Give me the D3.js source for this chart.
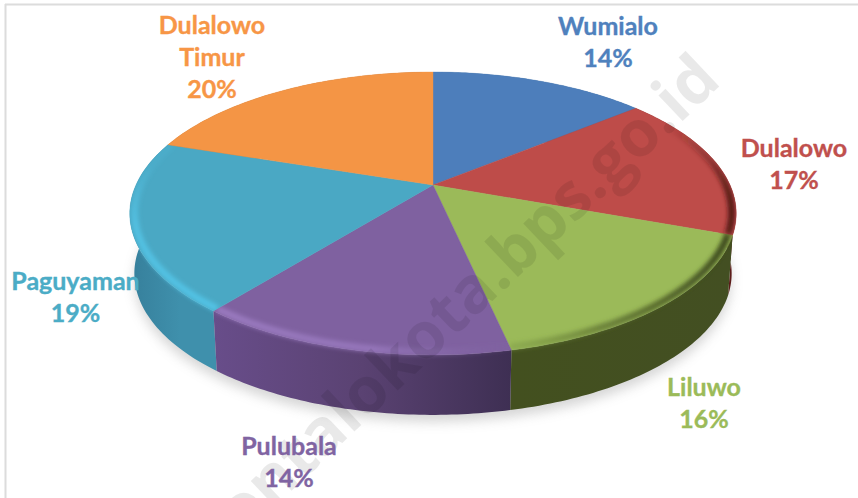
<!DOCTYPE html>
<html><head><meta charset="utf-8">
<script src="https://cdn.jsdelivr.net/npm/d3@7"></script>
<style>html,body{margin:0;padding:0;background:#fff}svg{display:block}</style>
</head><body><svg id="c" width="858" height="498"></svg>
<script>
const categories = ["Wumialo","Dulalowo","Liluwo","Pulubala","Paguyaman","Dulalowo Timur"];
const values = [14.0,16.6,16.0,14.1,19.4,19.9];
const labelLines = [["Wumialo"],["Dulalowo"],["Liluwo"],["Pulubala"],["Paguyaman"],["Dulalowo","Timur"]];
const colors = ["#4d7ebb","#be4c49","#9bba59","#7f61a0","#4aa8c4","#f49545"];
const labelColors = ["#4f81bd","#c0504d","#9bbb59","#8064a2","#4bacc6","#f79646"];
const watermark = "ontalokota.bps.go.id";

// layout
const W=858,H=498, cx=433, cy=185, A=297, B=135.7, k=0.2013, depth=60, baseScale=0.985;
const labelPos=[[608,26],[794,148],[704,387],[289,446],[75.5,281],[212,25]];
const lineGap=32;
const sideStops=[
  [[0,"#3a6594"],[1,"#3a6594"]],
  [[0,"#7a2523"],[1,"#5a1b19"]],
  [[0,"#43501f"],[1,"#434f22"]],
  [[0,"#684d8a"],[0.5,"#5a4272"],[1,"#3e2f53"]],
  [[0,"#367f9b"],[0.6,"#3f90ac"],[1,"#3f90ac"]],
  [[0,"#b06a30"],[1,"#b06a30"]]];
// rim band: gradient axis and stops [position, colour, opacity]
const rimAxis=["x","x","x","x","y","x"];
const rimStops=[
  [],
  [[665,"#5a1b19",0],[710,"#5a1b19",.45],[735,"#4a1412",1]],
  [[510,"#7d9a45",.45],[600,"#5a6d2e",.7],[725,"#3f4c1e",1]],
  [[214,"#9c7cc2",.9],[370,"#9878bd",.9],[510,"#8064a2",.1]],
  [[165,"#55c6e8",.15],[225,"#55c6e8",.8],[305,"#52c2e4",1]],
  []];

const svg=d3.select("#c");
const defs=svg.append("defs");
const xS=d3.scaleLinear().domain([-1,1]).range([cx-A,cx+A]);
const yS=d3.scaleLinear().domain([-1,1]).range([cy-B,cy+B]);
function project(r,t){
  const u=r*Math.sin(t), v=-r*Math.cos(t), w=1-k*v;
  return [xS(u/w), yS(v/w)];
}
function baseOf(p){return [cx+(p[0]-cx)*baseScale, p[1]+depth];}
const line=d3.line().curve(d3.curveLinear);
const pie=d3.pie().sort(null).value(d=>d)(values);
const arcPts=(a0,a1,r=1)=>d3.range(0,1.0001,1/60).map(f=>project(r,a0+(a1-a0)*f));
const full=arcPts(0,2*Math.PI);
const slices=pie.map((d,i)=>{
  const rim=arcPts(d.startAngle,d.endAngle);
  return {i,d,rim,top:line([[cx,cy],...rim])+"Z",side:line([...rim,...rim.slice().reverse().map(baseOf)])+"Z"};
});

const blur=(id,s)=>defs.append("filter").attr("id",id).attr("x","-20%").attr("y","-20%").attr("width","140%").attr("height","140%")
  .append("feGaussianBlur").attr("stdDeviation",s);
blur("shadow",6); blur("rimBlur",2.2);

// frame
svg.append("line").attr("x1",5.5).attr("x2",5.5).attr("y1",4).attr("y2",H).attr("stroke","#dcdcdc").attr("stroke-width",2);
svg.append("line").attr("x1",5).attr("x2",W).attr("y1",4.5).attr("y2",4.5).attr("stroke","#dcdcdc").attr("stroke-width",2);

// soft shadow
svg.append("path").attr("d",line(full.map(baseOf).map(p=>[p[0],p[1]+7]))+"Z")
  .attr("fill","#8d8d8d").attr("opacity",.36).attr("filter","url(#shadow)");

// side walls, back to front
slices.forEach(s=>{
  const g=defs.append("linearGradient").attr("id","side"+s.i).attr("gradientUnits","userSpaceOnUse")
    .attr("x1",d3.min(s.rim,p=>p[0])).attr("x2",d3.max(s.rim,p=>p[0])).attr("y1",0).attr("y2",0);
  sideStops[s.i].forEach(t=>g.append("stop").attr("offset",t[0]).attr("stop-color",t[1]));
  const cp=defs.append("clipPath").attr("id","clip"+s.i);
  cp.append("path").attr("d",s.top); cp.append("path").attr("d",s.side);
});
svg.append("g").selectAll("path").data(slices.slice().sort((a,b)=>
    Math.cos(b.d.startAngle/2+b.d.endAngle/2)-Math.cos(a.d.startAngle/2+a.d.endAngle/2)))
  .join("path").attr("d",s=>s.side).attr("fill",s=>`url(#side${s.i})`);

// top faces
svg.append("g").selectAll("path").data(slices).join("path")
  .attr("d",s=>s.top).attr("fill",s=>colors[s.i]).attr("stroke",s=>colors[s.i]).attr("stroke-width",.4);

// bevel along the rim
slices.forEach(s=>{
  const st=rimStops[s.i]; if(!st.length) return;
  const p0=st[0][0],p1=st[st.length-1][0], ax=rimAxis[s.i];
  const g=defs.append("linearGradient").attr("id","rim"+s.i).attr("gradientUnits","userSpaceOnUse")
    .attr("x1",ax==="x"?p0:0).attr("x2",ax==="x"?p1:0).attr("y1",ax==="y"?p0:0).attr("y2",ax==="y"?p1:0);
  st.forEach(t=>g.append("stop").attr("offset",(t[0]-p0)/(p1-p0)).attr("stop-color",t[1]).attr("stop-opacity",t[2]));
  svg.append("g").attr("clip-path",`url(#clip${s.i})`)
    .append("path").attr("d",line(arcPts(s.d.startAngle,s.d.endAngle,.985)))
    .attr("fill","none").attr("stroke",`url(#rim${s.i})`).attr("stroke-width",7).attr("filter","url(#rimBlur)");
});

// watermark (runs off the bottom edge, as in the reference)
svg.append("text").text(watermark).attr("text-anchor","end")
  .attr("transform","translate(723,83) rotate(-43.4)")
  .attr("font-family","'Open Sans',sans-serif").attr("font-weight",700).attr("font-size",64.5)
  .attr("fill","#000").attr("fill-opacity",.085);

// labels
const lab=svg.append("g").attr("font-family","Lato,'Open Sans',sans-serif").attr("font-weight",700)
  .attr("font-size",25).attr("text-anchor","middle").attr("stroke-width",.35);
categories.forEach((c,i)=>{
  const t=lab.append("text").attr("fill",labelColors[i]).attr("stroke",labelColors[i]);
  [...labelLines[i],Math.round(values[i])+"%"].forEach((s,j)=>{
    t.append("tspan").attr("x",labelPos[i][0]).attr("y",labelPos[i][1]+j*lineGap).attr("dy","0.35em").text(s);
  });
});
</script></body></html>
